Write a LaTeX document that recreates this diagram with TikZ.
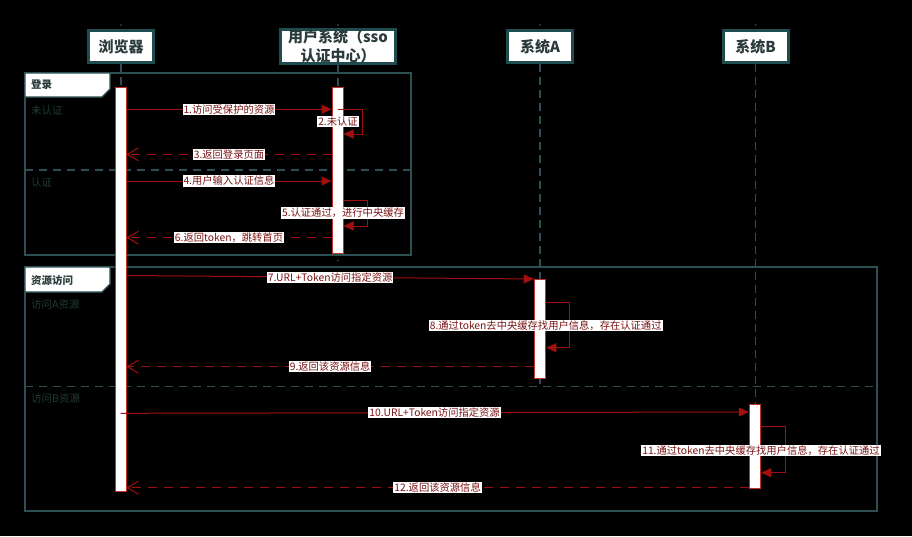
\documentclass[tikz,border=0pt]{standalone}
\usepackage{fontspec}
\setmainfont{Noto Sans CJK SC}
\usetikzlibrary{arrows.meta}
\definecolor{hdrline}{HTML}{1F4D4F}
\definecolor{hdrtext}{HTML}{2B3A3A}
\definecolor{frameline}{HTML}{2B4F52}
\definecolor{optext}{HTML}{213B33}
\definecolor{msgline}{HTML}{A30F0F}
\definecolor{msgtext}{HTML}{7A1414}
\definecolor{barline}{HTML}{C0302B}
\begin{document}
\begin{tikzpicture}[x=1pt,y=-1pt,
  hdr/.style={draw=hdrline, line width=3pt, fill=white, text=hdrtext,
    font=\fontsize{15pt}{19pt}\selectfont\bfseries, minimum width=65pt, minimum height=32pt, inner sep=0pt, align=center},
  life/.style={draw=frameline, line width=1.2pt, dash pattern=on 8pt off 5pt},
  dotm/.style={fill=frameline},
  frame/.style={draw=frameline, line width=1.2pt},
  tab/.style={draw=frameline, line width=1.2pt, fill=white},
  framelbl/.style={anchor=west, text=hdrtext, font=\fontsize{10.5pt}{12pt}\selectfont\bfseries, inner sep=0pt},
  oplbl/.style={anchor=west, text=optext, font=\fontsize{10.5pt}{12pt}\selectfont, inner sep=0pt},
  sep/.style={draw=frameline, line width=1.2pt, dash pattern=on 8pt off 6pt},
  bar/.style={draw=barline, line width=1pt, fill=white, inner sep=0pt, minimum width=11pt},
  msg/.style={draw=msgline, line width=1pt, -{Triangle[length=10pt,width=9pt]}},
  ret/.style={draw=msgline, line width=1pt, dash pattern=on 9pt off 7pt, -{Straight Barb[length=11pt,width=13pt]}},
  lbl/.style={fill=white, text=msgtext, font=\fontsize{10.3pt}{12pt}\selectfont, inner xsep=1pt, inner ysep=0.8pt}
]
\fill[black] (0,0) rectangle (912,536);
\useasboundingbox (0,0) rectangle (912,536);

% participant headers
\node[hdr] (hb) at (121,46.5) {浏览器};
\node[hdr, minimum width=115pt] (hs) at (338,46.5) {用户系统（sso\\认证中心）};
\node[hdr] (ha) at (540,46.5) {系统A};
\node[hdr] (hbb) at (755.5,46.5) {系统B};

% dots above headers
\fill[dotm] (121,25) circle (1pt);
\fill[dotm] (338,25) circle (1pt);
\fill[dotm] (540,25) circle (1pt);
\fill[dotm] (755.5,25) circle (1pt);

% lifeline ends
\coordinate (eb) at (121,491);
\coordinate (es) at (338,261);
\coordinate (ea) at (540,386);
\coordinate (ebb) at (755.5,490);
\draw[life] (hb.south) -- (eb);
\draw[life] (hs.south) -- (es);
\draw[life] (ha.south) -- (ea);
\draw[life] (hbb.south) -- (ebb);

% frame 1
\draw[frame] (25,73) rectangle (411,255);
\draw[tab] (25,73) -- (110,73) -- (110,89) -- (102,97) -- (25,97) -- cycle;
\node[framelbl] (f1) at (31,85) {登录};
\node[oplbl] (o1) at (31,110.5) {未认证};
\draw[sep] (25,170) -- (411,170);
\node[oplbl] (o2) at (31,183) {认证};

% frame 2
\draw[frame] (25,267) rectangle (877,511);
\draw[tab] (25,267) -- (110,267) -- (110,284) -- (102,292) -- (25,292) -- cycle;
\node[framelbl] (f2) at (31,280) {资源访问};
\node[oplbl] (o3) at (31,305) {访问A资源};
\draw[sep] (25,386.5) -- (877,386.5);
\node[oplbl] (o4) at (31,399) {访问B资源};

% activation bars
\node[bar, minimum height=404pt] (bb) at (120.5,289) {};
\node[bar, minimum height=166pt] (sb) at (337.5,170) {};
\node[bar, minimum width=11.5pt, minimum height=99pt] (ab) at (540,328.5) {};
\node[bar, minimum width=11.5pt, minimum height=84pt] (bbb) at (755,446) {};

% messages
\draw[msg] (bb.east |- 0,109.3) -- node[lbl] {1.访问受保护的资源} (sb.west |- 0,109.3);
\coordinate (s2) at (337.7,109.3);
\draw[msg] (s2) -- (362,109.3) -- (362,134) -- (sb.east |- 0,134);
\node[lbl] (l2) at (338,121.6) {2.未认证};
\draw[ret] (sb.west |- 0,154.3) -- node[lbl] {3.返回登录页面} (bb.east |- 0,154.3);
\draw[msg] (bb.east |- 0,181) -- node[lbl] {4.用户输入认证信息} (sb.west |- 0,181);
\draw[msg] (sb.east |- 0,200) -- (367.5,200) -- (367.5,226) -- (sb.east |- 0,226);
\node[lbl] (l5) at (343,213) {5.认证通过，进行中央缓存};
\draw[ret] (sb.west |- 0,237.7) -- node[lbl] {6.返回token，跳转首页} (bb.east |- 0,237.7);

\draw[msg] (bb.east |- 0,275.5) -- node[lbl] {7.URL+Token访问指定资源} (ab.west |- 0,279);
\draw[msg] (ab.east |- 0,302.3) -- (569.7,302.3) -- (569.7,347.7) -- (ab.east |- 0,347.7);
\node[lbl] (l8) at (545.7,325.5) {8.通过token去中央缓存找用户信息，存在认证通过};
\draw[ret] (ab.west |- 0,366.7) -- node[lbl] {9.返回该资源信息} (bb.east |- 0,366.7);

\draw[msg] (bb.center |- 0,413.3) -- node[lbl] {10.URL+Token访问指定资源} (bbb.west |- 0,412);
\draw[msg] (bbb.east |- 0,426.7) -- (785.7,426.7) -- (785.7,472.7) -- (bbb.east |- 0,472.7);
\node[lbl] (l11) at (761,450.5) {11.通过token去中央缓存找用户信息，存在认证通过};
\draw[ret] (bbb.west |- 0,487.7) -- node[lbl] {12.返回该资源信息} (bb.east |- 0,487.7);
\end{tikzpicture}
\end{document}
